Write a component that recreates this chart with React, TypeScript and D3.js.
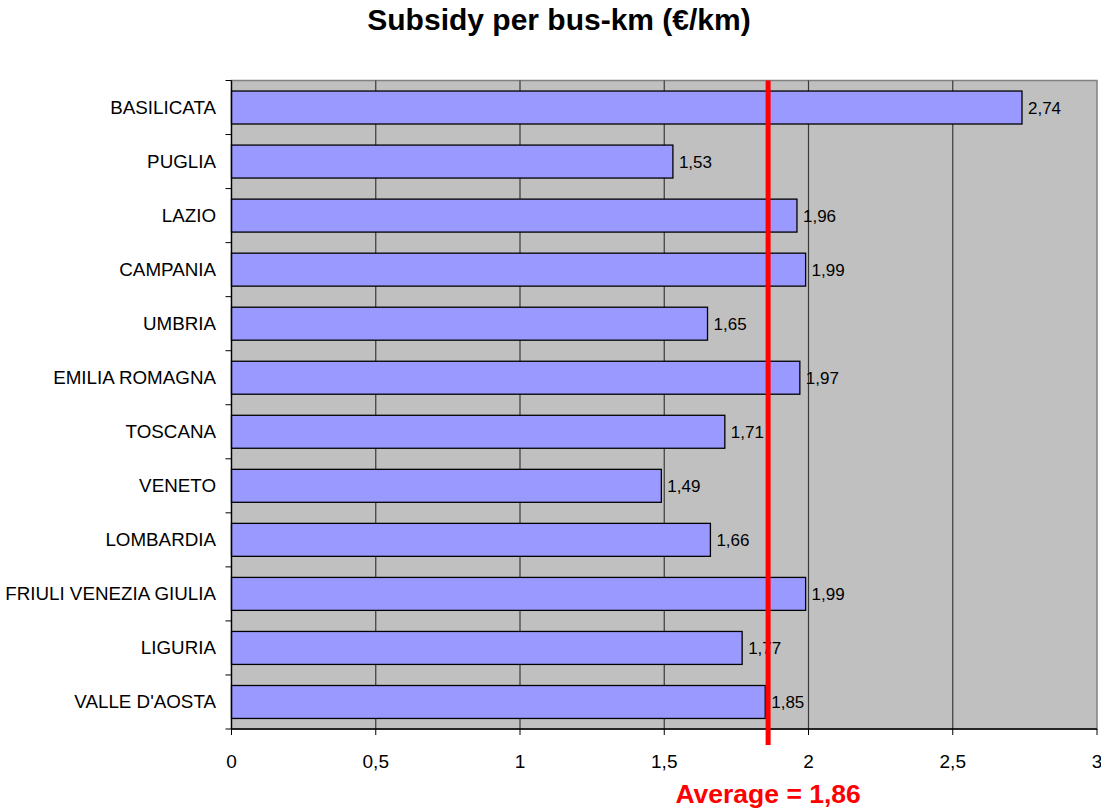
import React from "react";
import * as d3 from "d3";

const regions = [
  "BASILICATA",
  "PUGLIA",
  "LAZIO",
  "CAMPANIA",
  "UMBRIA",
  "EMILIA ROMAGNA",
  "TOSCANA",
  "VENETO",
  "LOMBARDIA",
  "FRIULI VENEZIA GIULIA",
  "LIGURIA",
  "VALLE D'AOSTA",
];
const subsidy = [2.74, 1.53, 1.96, 1.99, 1.65, 1.97, 1.71, 1.49, 1.66, 1.99, 1.77, 1.85];
const xTicks = [0, 0.5, 1, 1.5, 2, 2.5, 3];
const average = 1.86;

const W = 1101;
const H = 808;
const plot = { left: 231.5, right: 1097, top: 80.5, bottom: 729 };

const fmt = (v: number) => String(v).replace(".", ",");

export default function App() {
  const x = d3.scaleLinear().domain([0, 3]).range([plot.left, plot.right]);
  const y = d3
    .scaleBand<string>()
    .domain(regions)
    .range([plot.top, plot.bottom])
    .paddingInner(0.39)
    .paddingOuter(0.195);
  const step = y.step();
  const font = "Arial, 'Liberation Sans', sans-serif";

  return (
    <svg
      width={W}
      height={H}
      style={{ position: "absolute", left: 0, top: 0, display: "block" }}
      fontFamily={font}
    >
      <rect x={0} y={0} width={W} height={H} fill="#ffffff" />
      <text x={559} y={30} textAnchor="middle" fontSize={30} fontWeight="bold" fill="#000">
        Subsidy per bus-km (€/km)
      </text>

      {/* plot background */}
      <rect
        x={plot.left}
        y={plot.top}
        width={plot.right - plot.left}
        height={plot.bottom - plot.top}
        fill="#c0c0c0"
        stroke="#808080"
        strokeWidth={1.5}
      />

      {/* vertical gridlines */}
      {xTicks.slice(1, -1).map((t) => (
        <line
          key={"g" + t}
          x1={x(t)}
          x2={x(t)}
          y1={plot.top}
          y2={plot.bottom}
          stroke="#3a3a3a"
          strokeWidth={1.2}
        />
      ))}

      {/* bars */}
      {regions.map((r, i) => (
        <g key={r}>
          <rect
            x={x(0)}
            y={y(r)!}
            width={x(subsidy[i]) - x(0)}
            height={y.bandwidth()}
            fill="#9999ff"
            stroke="#000"
            strokeWidth={1.3}
          />
          <text
            x={x(subsidy[i]) + 6}
            y={y(r)! + y.bandwidth() / 2 + 6}
            fontSize={17}
            fill="#000"
          >
            {fmt(subsidy[i])}
          </text>
          <text
            x={216}
            y={y(r)! + y.bandwidth() / 2 + 6.5}
            fontSize={18.8}
            textAnchor="end"
            fill="#000"
          >
            {r}
          </text>
        </g>
      ))}

      {/* y axis */}
      <line x1={plot.left} x2={plot.left} y1={plot.top} y2={plot.bottom} stroke="#000" strokeWidth={1.3} />
      {d3.range(regions.length + 1).map((k) => (
        <line
          key={"yt" + k}
          x1={plot.left - 6}
          x2={plot.left}
          y1={plot.top + k * step}
          y2={plot.top + k * step}
          stroke="#000"
          strokeWidth={1}
        />
      ))}

      {/* x axis */}
      <line x1={plot.left} x2={plot.right} y1={plot.bottom} y2={plot.bottom} stroke="#000" strokeWidth={1.3} />
      {xTicks.map((t) => (
        <g key={"xt" + t}>
          <line x1={x(t)} x2={x(t)} y1={plot.bottom} y2={plot.bottom + 6} stroke="#000" strokeWidth={1} />
          <text x={x(t)} y={768} textAnchor="middle" fontSize={19} fill="#000">
            {fmt(t)}
          </text>
        </g>
      ))}

      {/* average marker */}
      <line
        x1={x(average)}
        x2={x(average)}
        y1={plot.top}
        y2={745}
        stroke="#ff0000"
        strokeWidth={5}
      />
      <text x={x(average)} y={803} textAnchor="middle" fontSize={26.5} fontWeight="bold" fill="#ff0000">
        Average = {fmt(average)}
      </text>
    </svg>
  );
}
